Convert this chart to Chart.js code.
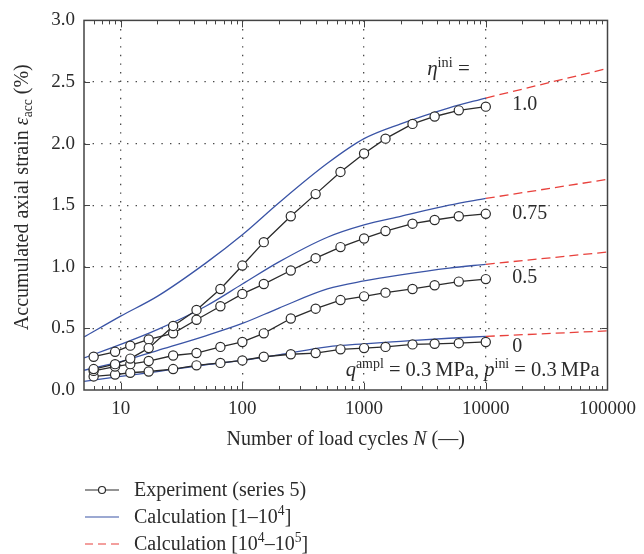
<!DOCTYPE html>
<html>
<head>
<meta charset="utf-8">
<title>Accumulated axial strain vs. load cycles</title>
<script src="https://cdn.jsdelivr.net/npm/chart.js@4"></script>
<style>
  html, body { margin: 0; padding: 0; background: #fff; }
  #strainChart { display: block; }
</style>
</head>
<body>
<canvas id="strainChart" width="644" height="554"></canvas>
<script>
// Test series 5: number of load cycles at each reading
const cycles = [6, 9, 12, 17, 27, 42, 66, 100, 150, 250, 400, 640, 1000, 1500, 2500, 3800, 6000, 10000];

// Measured accumulated axial strain (%) for each initial stress ratio
const expEta100 = [0.17, 0.21, 0.255, 0.34, 0.52, 0.65, 0.82, 1.01, 1.20, 1.41, 1.59, 1.77, 1.92, 2.04, 2.16, 2.22, 2.27, 2.30];
const expEta075 = [0.27, 0.31, 0.36, 0.41, 0.46, 0.57, 0.68, 0.78, 0.86, 0.97, 1.07, 1.16, 1.23, 1.29, 1.35, 1.38, 1.41, 1.43];
const expEta050 = [0.155, 0.19, 0.21, 0.235, 0.28, 0.30, 0.35, 0.39, 0.46, 0.58, 0.66, 0.73, 0.76, 0.79, 0.82, 0.85, 0.88, 0.90];
const expEta000 = [0.11, 0.125, 0.14, 0.15, 0.17, 0.20, 0.22, 0.24, 0.27, 0.29, 0.30, 0.33, 0.34, 0.35, 0.37, 0.375, 0.38, 0.39];

// Model calculation, N = 1 ... 10^4
const calcCycles = [5, 10, 20, 50, 100, 200, 500, 1000, 2000, 5000, 10000];
const calcEta100 = [0.43, 0.60, 0.76, 1.03, 1.26, 1.52, 1.84, 2.04, 2.16, 2.29, 2.37];
const calcEta075 = [0.26, 0.37, 0.49, 0.68, 0.86, 1.04, 1.24, 1.34, 1.41, 1.50, 1.555];
const calcEta050 = [0.16, 0.23, 0.32, 0.44, 0.54, 0.665, 0.82, 0.885, 0.935, 0.99, 1.02];
const calcEta000 = [0.07, 0.11, 0.15, 0.205, 0.24, 0.285, 0.35, 0.375, 0.395, 0.42, 0.435];

// Extrapolation, N = 10^4 ... 10^5
const extCycles = [10000, 100000];
const extEta100 = [2.37, 2.61];
const extEta075 = [1.555, 1.71];
const extEta050 = [1.02, 1.12];
const extEta000 = [0.435, 0.48];

// Initial stress ratio labels, top to bottom
const etaLevels = ['1.0', '0.75', '0.5', '0'];

// Axis ticks
const xTickDecades = [10, 100, 1000, 10000, 100000];
const yTicks = [0, 0.5, 1.0, 1.5, 2.0, 2.5, 3.0];

const FONT = '"Liberation Serif", "Times New Roman", serif';
const INK = '#2b2b2b';
const FRAME = '#444';
const BLUE = '#3a54a6';
const RED = '#e8413c';

let strainChart = null;

function toPoints(xs, ys) {
    return xs.map((x, i) => ({ x: x, y: ys[i] }));
}

function isDecade(v) {
    const l = Math.log10(v);
    return Math.abs(l - Math.round(l)) < 1e-9;
}

// Text runs with italic / superscript / subscript pieces
function partFont(p, size) {
    const s = (p.sup || p.sub) ? size * 0.68 : size;
    return `${p.italic ? 'italic ' : ''}${s}px ${FONT}`;
}

function richWidth(ctx, parts, size) {
    let w = 0;
    parts.forEach(p => {
        ctx.font = partFont(p, size);
        w += ctx.measureText(p.t).width;
    });
    return w;
}

function drawRich(ctx, parts, x, y, size, align) {
    const total = richWidth(ctx, parts, size);
    let cx = x;
    if (align === 'center') cx = x - total / 2;
    if (align === 'right') cx = x - total;
    ctx.textBaseline = 'alphabetic';
    ctx.textAlign = 'left';
    parts.forEach(p => {
        ctx.font = partFont(p, size);
        let dy = 0;
        if (p.sup) dy = -size * 0.4;
        if (p.sub) dy = size * 0.22;
        ctx.fillText(p.t, cx, y + dy);
        cx += ctx.measureText(p.t).width;
    });
}

// Frame, inward tick marks, in-plot notes, axis titles and legend
const decorPlugin = {
    id: 'decor',
    afterDraw(chart) {
        const { ctx, chartArea: a, scales: { x, y } } = chart;
        ctx.save();

        // frame
        ctx.strokeStyle = FRAME;
        ctx.lineWidth = 1.5;
        ctx.strokeRect(a.left, a.top, a.right - a.left, a.bottom - a.top);

        // log minor/major ticks on bottom and top
        ctx.lineWidth = 1;
        ctx.beginPath();
        for (let e = 0; e <= 5; e++) {
            for (let m = 1; m <= 9; m++) {
                const v = m * Math.pow(10, e);
                if (v <= 5 || v >= 100000) continue;
                const px = Math.round(x.getPixelForValue(v)) + 0.5;
                const len = m === 1 ? 7 : 4;
                ctx.moveTo(px, a.bottom);
                ctx.lineTo(px, a.bottom - len);
                ctx.moveTo(px, a.top);
                ctx.lineTo(px, a.top + len);
            }
        }
        // left and right ticks
        yTicks.forEach(v => {
            if (v <= 0 || v >= 3) return;
            const py = Math.round(y.getPixelForValue(v)) + 0.5;
            ctx.moveTo(a.left, py);
            ctx.lineTo(a.left + 6, py);
            ctx.moveTo(a.right, py);
            ctx.lineTo(a.right - 6, py);
        });
        ctx.stroke();

        ctx.fillStyle = INK;

        // stress ratio labels next to the curves
        drawRich(ctx, [{ t: 'η', italic: true }, { t: 'ini', sup: true }, { t: ' =' }],
            x.getPixelForValue(3300), y.getPixelForValue(2.555), 21, 'left');
        const labelY = [2.27, 1.387, 0.872, 0.31];
        etaLevels.forEach((lab, i) => {
            drawRich(ctx, [{ t: lab }], x.getPixelForValue(16500), y.getPixelForValue(labelY[i]), 20, 'left');
        });

        // loading conditions
        drawRich(ctx, [
            { t: 'q', italic: true }, { t: 'ampl', sup: true }, { t: ' = 0.3\u2009MPa, ' },
            { t: 'p', italic: true }, { t: 'ini', sup: true }, { t: ' = 0.3\u2009MPa' }
        ], a.right - 8, y.getPixelForValue(0.11), 20.5, 'right');

        // x axis title
        drawRich(ctx, [{ t: 'Number of load cycles ' }, { t: 'N', italic: true }, { t: ' (—)' }],
            (a.left + a.right) / 2, 445, 20, 'center');

        // y axis title
        ctx.save();
        ctx.translate(28, (a.top + a.bottom) / 2 - 8);
        ctx.rotate(-Math.PI / 2);
        drawRich(ctx, [
            { t: 'Accumulated axial strain ' }, { t: 'ε', italic: true },
            { t: 'acc', sub: true }, { t: ' (%)' }
        ], 0, 0, 20, 'center');
        ctx.restore();

        // legend
        const lx0 = 85, lx1 = 119, tx = 134;
        const rows = [490, 517, 544];
        ctx.lineWidth = 1.2;

        ctx.strokeStyle = INK;
        ctx.beginPath();
        ctx.moveTo(lx0, rows[0]);
        ctx.lineTo(lx1, rows[0]);
        ctx.stroke();
        ctx.beginPath();
        ctx.arc((lx0 + lx1) / 2, rows[0], 3.5, 0, Math.PI * 2);
        ctx.fillStyle = '#fff';
        ctx.fill();
        ctx.stroke();

        ctx.strokeStyle = BLUE;
        ctx.beginPath();
        ctx.moveTo(lx0, rows[1]);
        ctx.lineTo(lx1, rows[1]);
        ctx.stroke();

        ctx.strokeStyle = RED;
        ctx.setLineDash([8, 5]);
        ctx.beginPath();
        ctx.moveTo(lx0, rows[2]);
        ctx.lineTo(lx1 + 2, rows[2]);
        ctx.stroke();
        ctx.setLineDash([]);

        ctx.fillStyle = INK;
        drawRich(ctx, [{ t: 'Experiment (series 5)' }], tx, rows[0] + 6, 20, 'left');
        drawRich(ctx, [{ t: 'Calculation [1–10' }, { t: '4', sup: true }, { t: ']' }], tx, rows[1] + 6, 20, 'left');
        drawRich(ctx, [{ t: 'Calculation [10' }, { t: '4', sup: true }, { t: '–10' }, { t: '5', sup: true }, { t: ']' }],
            tx, rows[2] + 6, 20, 'left');

        ctx.restore();
    }
};

function expDataset(values) {
    return {
        data: toPoints(cycles, values),
        borderColor: INK,
        borderWidth: 1.3,
        pointRadius: 4.6,
        pointBorderWidth: 1.2,
        pointBackgroundColor: '#fff',
        pointBorderColor: INK,
        tension: 0
    };
}

function calcDataset(values) {
    return {
        data: toPoints(calcCycles, values),
        borderColor: BLUE,
        borderWidth: 1.3,
        pointRadius: 0,
        cubicInterpolationMode: 'monotone'
    };
}

function extDataset(values) {
    return {
        data: toPoints(extCycles, values),
        borderColor: RED,
        borderWidth: 1.3,
        borderDash: [9, 5],
        pointRadius: 0
    };
}

function gridColor(show) {
    return ctx => (ctx.tick && show(ctx.tick.value)) ? '#4a4a4a' : 'rgba(0,0,0,0)';
}

// Create chart
function createStrainChart() {
    const ctx = document.getElementById('strainChart').getContext('2d');

    if (strainChart) {
        strainChart.destroy();
    }

    strainChart = new Chart(ctx, {
        type: 'line',
        data: {
            datasets: [
                expDataset(expEta100), expDataset(expEta075), expDataset(expEta050), expDataset(expEta000),
                calcDataset(calcEta100), calcDataset(calcEta075), calcDataset(calcEta050), calcDataset(calcEta000),
                extDataset(extEta100), extDataset(extEta075), extDataset(extEta050), extDataset(extEta000)
            ]
        },
        options: {
            responsive: false,
            animation: false,
            layout: { padding: { left: 0, right: 31, top: 17, bottom: 134 } },
            plugins: {
                legend: { display: false },
                tooltip: { enabled: false }
            },
            scales: {
                x: {
                    type: 'logarithmic',
                    min: 5,
                    max: 100000,
                    afterFit: scale => { scale.height = 30; },
                    afterBuildTicks: scale => {
                        scale.ticks = xTickDecades.map(v => ({ value: v }));
                    },
                    grid: {
                        drawTicks: false,
                        lineWidth: 1.3,
                        color: gridColor(v => v > 5 && v < 100000)
                    },
                    border: { display: false, dash: [1.4, 7.2] },
                    ticks: {
                        autoSkip: false,
                        maxRotation: 0,
                        padding: 8,
                        color: INK,
                        font: { family: FONT, size: 19 },
                        callback: v => isDecade(v) ? String(v) : ''
                    }
                },
                y: {
                    min: 0,
                    max: 3,
                    afterFit: scale => { scale.width = 84; },
                    afterBuildTicks: scale => {
                        scale.ticks = yTicks.map(v => ({ value: v }));
                    },
                    grid: {
                        drawTicks: false,
                        lineWidth: 1.3,
                        color: gridColor(v => v > 0 && v < 3)
                    },
                    border: { display: false, dash: [1.4, 7.2] },
                    ticks: {
                        padding: 9,
                        color: INK,
                        font: { family: FONT, size: 19 },
                        callback: v => Number(v).toFixed(1)
                    }
                }
            }
        },
        plugins: [decorPlugin]
    });
}

createStrainChart();
</script>
</body>
</html>
